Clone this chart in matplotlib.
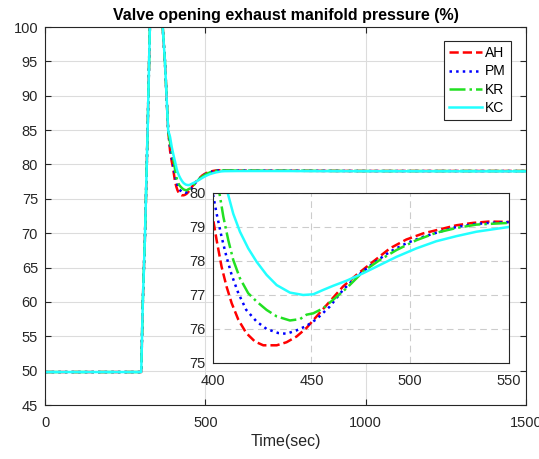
import numpy as np
import matplotlib
matplotlib.use("Agg")
import matplotlib.pyplot as plt

plt.rcParams['font.family'] = ['Liberation Sans', 'DejaVu Sans']

# common part: step at t=300 and overshoot (all controllers overlap here)
t_common = [0, 300, 305, 312, 320, 327, 335, 343, 352, 360, 367, 374, 379, 384]
v_common = [49.8, 49.8, 60, 70, 85, 100, 111, 115, 113, 107, 100, 95, 90, 85]

t_ah = [390, 395, 400, 402, 404.5, 407, 409.6, 413, 417, 421.4, 425.6, 432.4, 437.4, 442.5,
        447.5, 452.6, 459.3, 466, 472.8, 481.2, 489.7, 498, 506.5, 515, 523.4, 531.8,
        540.2, 548.7, 560, 600, 700, 1000, 1500]
v_ah = [82.0, 80.5, 79.3, 78.61, 77.83, 77.25, 76.76, 76.27, 75.88, 75.63, 75.52, 75.52,
        75.61, 75.78, 76.03, 76.37, 76.81, 77.25, 77.59, 77.98, 78.37, 78.63, 78.81, 78.93,
        79.05, 79.12, 79.16, 79.15, 79.15, 79.12, 79.1, 79.05, 79.05]

t_pm = [390, 395, 400, 402, 404.5, 407, 409.6, 413, 417, 422.2, 427.3, 433.2, 437.4, 442.5,
        447.5, 452.6, 459.3, 466, 472.8, 481.2, 489.7, 498, 506.5, 515, 523.4, 531.8,
        540.2, 548.7, 560, 600, 700, 1000, 1500]
v_pm = [82.6, 81.2, 80.0, 79.39, 78.71, 78.12, 77.59, 77.05, 76.56, 76.22, 76.0, 75.88,
        75.86, 75.96, 76.09, 76.29, 76.66, 77.15, 77.54, 77.93, 78.27, 78.52, 78.71, 78.86,
        79.0, 79.08, 79.12, 79.14, 79.14, 79.12, 79.1, 79.05, 79.05]

t_kr = [390, 395, 400, 403.4, 405.4, 407.9, 410.4, 413.8, 418, 422.2, 427.3, 432.4, 439.1,
        444.2, 447.5, 450.9, 456, 461, 467.8, 476.2, 484.6, 493, 503.1, 513.2, 523.4,
        533.5, 550, 560, 600, 700, 1000, 1500]
v_kr = [83.2, 81.9, 80.8, 80.0, 79.3, 78.61, 78.03, 77.49, 77.05, 76.81, 76.56, 76.37, 76.25,
        76.29, 76.42, 76.46, 76.61, 76.86, 77.2, 77.69, 78.03, 78.32, 78.61, 78.83, 78.97,
        79.07, 79.12, 79.13, 79.12, 79.1, 79.05, 79.05]

t_kc = [390, 395, 400, 404, 407.6, 410.4, 413.8, 418, 422.2, 427.3, 432.4, 439.1, 445.8,
        450.9, 456, 461, 467.8, 476.2, 484.6, 493, 503.1, 513.2, 523.4, 533.5, 550, 560,
        600, 700, 1000, 1500]
v_kc = [84.0, 82.6, 81.5, 80.7, 80.0, 79.39, 78.86, 78.37, 77.98, 77.59, 77.29, 77.07, 77.0,
        77.02, 77.15, 77.27, 77.42, 77.64, 77.88, 78.12, 78.37, 78.58, 78.73, 78.86, 79.0,
        79.03, 79.05, 79.05, 79.02, 79.0]

labels = ['AH', 'PM', 'KR', 'KC']
colors = ['#ff0000', '#0000ff', '#22e022', '#22ffff']
styles = ['--', ':', '-.', '-']
series = [(t_ah, v_ah), (t_pm, v_pm), (t_kr, v_kr), (t_kc, v_kc)]

fig = plt.figure(figsize=(5.39, 4.59), dpi=100)
ax = fig.add_axes([0.0835, 0.1176, 0.8924, 0.8235])

for (t, v), lab, c, ls in zip(series, labels, colors, styles):
    ax.plot(t_common + t, v_common + v, ls, color=c, lw=1.8, label=lab)

ax.set_xlim(0, 1500)
ax.set_ylim(45, 100)
ax.set_xticks([0, 500, 1000, 1500])
ax.set_yticks(np.arange(45, 101, 5))
ax.grid(True, color='#dcdcdc', lw=0.8)
ax.tick_params(direction='in', top=True, right=True, length=4, labelsize=10.5,
               colors='#262626')
ax.tick_params(axis='x', pad=8)
ax.tick_params(axis='y', pad=5)
for s in ax.spines.values():
    s.set_color('#262626')
    s.set_linewidth(0.8)
ax.set_title('Valve opening exhaust manifold pressure (%)', fontsize=11.5,
             fontweight='bold', pad=5)
ax.set_xlabel('Time(sec)', fontsize=11.5, color='#262626', labelpad=3)

leg = ax.legend(loc='upper right', bbox_to_anchor=(0.968, 0.962), fontsize=10,
                fancybox=False, framealpha=1, edgecolor='#262626',
                handlelength=2.4, labelspacing=0.3, borderpad=0.35,
                handletextpad=0.2, borderaxespad=0)
leg.get_frame().set_linewidth(0.8)

# zoomed inset
axin = fig.add_axes([0.3946, 0.2092, 0.5497, 0.3704])
for (t, v), c, ls in zip(series, colors, styles):
    axin.plot(t_common + t, v_common + v, ls, color=c, lw=1.8)
axin.set_xlim(400, 550)
axin.set_ylim(75, 80)
axin.set_xticks([400, 450, 500, 550])
axin.set_yticks([75, 76, 77, 78, 79, 80])
axin.grid(True, color='#cccccc', lw=0.8, ls=(0, (6, 4)))
axin.tick_params(direction='in', length=0, labelsize=10.5, colors='#262626')
axin.tick_params(axis='x', pad=8)
axin.tick_params(axis='y', pad=5)
for s in axin.spines.values():
    s.set_color('#262626')
    s.set_linewidth(0.8)

fig.savefig('out.png', dpi=100)
